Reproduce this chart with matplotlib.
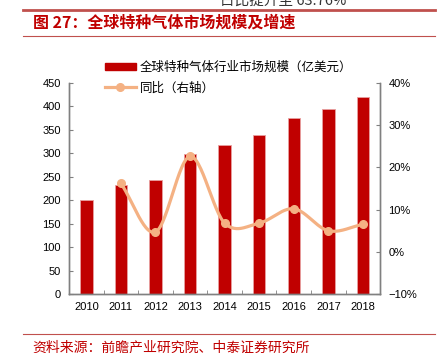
import numpy as np
import matplotlib.pyplot as plt
from matplotlib.patches import Patch
from matplotlib.lines import Line2D

plt.rcParams['font.family'] = ['Liberation Sans', 'Noto Sans CJK SC', 'DejaVu Sans']

years = ['2010', '2011', '2012', '2013', '2014', '2015', '2016', '2017', '2018']
market = [200, 232, 243, 298, 318, 340, 375, 394, 420]
growth = [None, 16.2, 4.7, 22.6, 6.8, 6.8, 10.2, 5.0, 6.5]

red = '#C00000'
orange = '#F4B183'
cjk = ['Noto Sans CJK SC', 'DejaVu Sans']

fig = plt.figure(figsize=(4.37, 3.53), dpi=100)
ax = fig.add_axes([0.158, 0.167, 0.712, 0.598])
ax2 = ax.twinx()

x = np.arange(len(years))
ax.bar(x, market, width=0.36, color=red, edgecolor='#E8A0A0', linewidth=0.6, zorder=2)
ax.set_xlim(-0.5, len(years) - 0.5)
ax.set_ylim(0, 450)
ax.set_yticks(range(0, 451, 50))
ax.set_xticks(x)
ax.set_xticklabels(years)
ax.set_xticks(np.arange(0.5, len(years) - 0.5, 1), minor=True)
ax.tick_params(axis='x', which='major', length=0, labelsize=8, pad=6)
ax.tick_params(axis='x', which='minor', direction='in', length=3, color='#808080')
ax.tick_params(axis='y', direction='in', length=3, labelsize=8, color='#808080', pad=6)

# smoothed line (Catmull-Rom through the data points)
gx = np.array([i for i, g in enumerate(growth) if g is not None], dtype=float)
gy = np.array([g for g in growth if g is not None], dtype=float)
px = np.concatenate([[2 * gx[0] - gx[1]], gx, [2 * gx[-1] - gx[-2]]])
py = np.concatenate([[2 * gy[0] - gy[1]], gy, [2 * gy[-1] - gy[-2]]])
sx, sy = [], []
t = np.linspace(0, 1, 30)
for i in range(1, len(px) - 2):
    for arr, out in ((px, sx), (py, sy)):
        p0, p1, p2, p3 = arr[i - 1], arr[i], arr[i + 1], arr[i + 2]
        out.extend(0.5 * (2 * p1 + (-p0 + p2) * t + (2 * p0 - 5 * p1 + 4 * p2 - p3) * t ** 2
                          + (-p0 + 3 * p1 - 3 * p2 + p3) * t ** 3))
ax2.plot(sx, sy, color=orange, lw=2.3, zorder=3)
ax2.plot(gx, gy, 'o', color=orange, markersize=5.5, zorder=4)
ax2.set_ylim(-10, 40)
ax2.set_yticks(range(-10, 41, 10))
ax2.set_yticklabels([f'{v}%' if v >= 0 else f'\u2212{-v}%' for v in range(-10, 41, 10)])
ax2.tick_params(axis='y', direction='in', length=3, labelsize=8, color='#808080', pad=6)

for a in (ax, ax2):
    a.spines['top'].set_visible(False)
    for s in ('left', 'right', 'bottom'):
        a.spines[s].set_color('#808080')
        a.spines[s].set_linewidth(1.0)

handles = [Patch(facecolor=red, edgecolor=red),
           Line2D([0], [0], color=orange, lw=2.3, marker='o', markersize=5.5)]
labels = ['全球特种气体行业市场规模（亿美元）', '同比（右轴）']
fig.legend(handles, labels, loc='upper left', bbox_to_anchor=(0.225, 0.845),
           frameon=False, prop={'family': cjk, 'size': 9}, handlelength=2.5,
           handleheight=0.5, handletextpad=0.3, labelspacing=0.6, borderpad=0)

# header / footer
fig.add_artist(Line2D([0.053, 0.995], [0.972, 0.972], color='#C0504D', lw=2))
fig.add_artist(Line2D([0.053, 0.995], [0.898, 0.898], color='#C0504D', lw=0.8))
fig.add_artist(Line2D([0.053, 0.995], [0.055, 0.055], color='#C0504D', lw=0.8))
fig.text(0.076, 0.935, '图 27：全球特种气体市场规模及增速', family=cjk, fontsize=11.5,
         fontweight='bold', color=red, va='center')
fig.text(0.503, 0.999, '占比提升至 63.76%', family=cjk, fontsize=10.5, color='#333333', va='center')
fig.text(0.073, 0.017, '资料来源：前瞻产业研究院、中泰证券研究所', family=cjk, fontsize=10,
         color=red, va='center')

fig.savefig('out.png', dpi=100)
